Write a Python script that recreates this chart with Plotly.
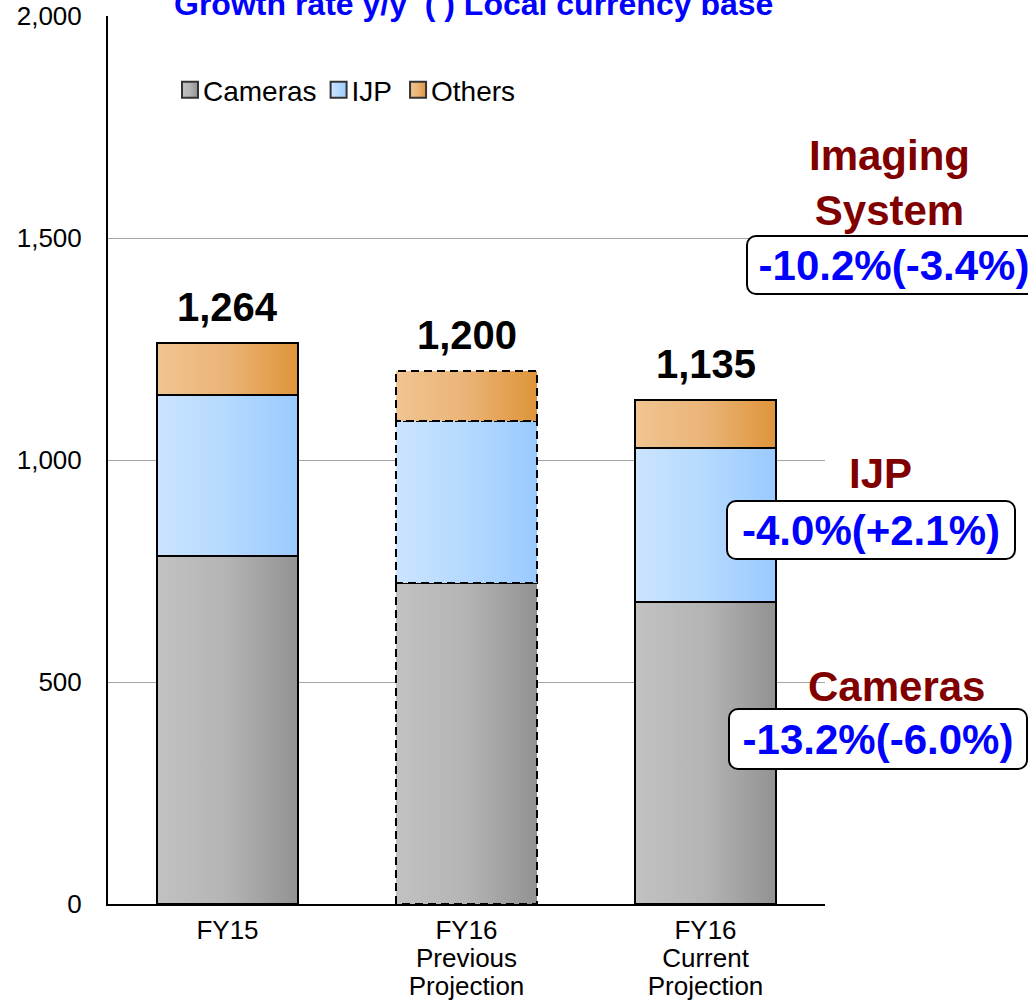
import plotly.graph_objects as go

# Sales by segment (billions of yen), stacked
categories = ["FY15", "FY16<br>Previous<br>Projection", "FY16<br>Current<br>Projection"]
cameras = [784, 723, 680]
ijp = [362, 364, 348]
others = [118, 113, 107]
series_names = ["Cameras", "IJP", "Others"]
base_colors = ["#aaaaaa", "#b3d8ff", "#e8ae6a"]

# Segment growth notes shown on the right
segment_titles = ["Imaging<br>System", "IJP", "Cameras"]
segment_growth = ["-10.2%(-3.4%)", "-4.0%(+2.1%)", "-13.2%(-6.0%)"]

y_ticks = [0, 500, 1000, 1500, 2000]
y_tick_text = ["0", "500", "1,000", "1,500", "2,000"]

FONT = "Liberation Sans, Arial, sans-serif"
W, H = 1028, 1003
L, R, T, B = 108, 825, 16, 904


def px(x):
    return (x - L) / (R - L)


def py(y):
    return (B - y) / (B - T)


fig = go.Figure()
for name, vals, col in zip(series_names, [cameras, ijp, others], base_colors):
    fig.add_trace(go.Bar(
        x=categories, y=vals, name=name,
        marker=dict(color=col, line=dict(color="#000000", width=2)),
        hoverinfo="skip",
    ))

totals = [c + i + o for c, i, o in zip(cameras, ijp, others)]
annotations = []
for cat, tot in zip(categories, totals):
    annotations.append(dict(
        x=cat, y=tot, xref="x", yref="y", text=f"<b>{tot:,}</b>",
        showarrow=False, yanchor="bottom", yshift=12,
        font=dict(family=FONT, size=40, color="#000000"),
    ))

annotations.append(dict(
    x=px(473), y=py(4), xref="paper", yref="paper",
    text="<b>Growth rate y/y  ( ) Local currency base</b>",
    showarrow=False, xanchor="center", yanchor="middle",
    font=dict(family=FONT, size=32, color="#0000ff"),
))

title_pos = [(889, 183), (880, 474), (896, 686)]
box_pos = [(894, 265, 292, 56), (871, 530, 286, 56), (878, 739, 296, 58)]
for t, (tx, ty) in zip(segment_titles, title_pos):
    annotations.append(dict(
        x=px(tx), y=py(ty), xref="paper", yref="paper", text=f"<b>{t}</b>",
        showarrow=False, xanchor="center", yanchor="middle",
        font=dict(family=FONT, size=42, color="#800000"),
    ))
for g, (bx, by, bw, bh) in zip(segment_growth, box_pos):
    annotations.append(dict(
        x=px(bx), y=py(by), xref="paper", yref="paper", text=f"<b>{g}</b>",
        showarrow=False, xanchor="center", yanchor="middle",
        width=bw, height=bh, bgcolor="#ffffff",
        bordercolor="#000000", borderwidth=2, borderpad=0,
        font=dict(family=FONT, size=42, color="#0000ff"),
    ))

fig.update_layout(
    width=W, height=H,
    margin=dict(l=L, r=W - R, t=T, b=H - B, autoexpand=False),
    paper_bgcolor="#ffffff", plot_bgcolor="#ffffff",
    barmode="stack", bargap=0.41,
    showlegend=True,
    legend=dict(
        orientation="h", x=px(163), y=py(65), xanchor="left", yanchor="top",
        traceorder="normal", font=dict(family=FONT, size=28, color="#000000"),
        bgcolor="rgba(0,0,0,0)",
    ),
    annotations=annotations,
    font=dict(family=FONT, color="#000000"),
)
fig.update_yaxes(
    range=[0, 2000], tickvals=y_ticks, ticktext=y_tick_text,
    showgrid=True, gridcolor="#a6a6a6", gridwidth=1,
    showline=True, linecolor="#000000", linewidth=2,
    zeroline=False, ticks="", ticklabelstandoff=19,
    tickfont=dict(family=FONT, size=26, color="#000000"),
)
fig.update_xaxes(
    showline=True, linecolor="#000000", linewidth=2,
    ticks="", ticklabelstandoff=2,
    tickfont=dict(family=FONT, size=26, color="#000000"),
)

# Horizontal gradient fills, dashed outline for the previous projection,
# tighter line spacing for category labels, compact legend entries,
# and rounded corners on the growth-rate boxes.
post = """
var gd = document.getElementById('{plot_id}');
var svg = gd.querySelector('.main-svg');
var defs = svg.querySelector('defs');
var ns = 'http://www.w3.org/2000/svg';
var grads = [['gCam', '#c2c2c2', '#b4b4b4', '#929292'],
             ['gIjp', '#cbe4ff', '#b5d9ff', '#99caff'],
             ['gOth', '#f0c491', '#eab476', '#df943a']];
grads.forEach(function(g) {
  var lg = document.createElementNS(ns, 'linearGradient');
  lg.setAttribute('id', g[0]);
  lg.setAttribute('x1', '0'); lg.setAttribute('y1', '0');
  lg.setAttribute('x2', '1'); lg.setAttribute('y2', '0');
  [[0, g[1]], [0.5, g[2]], [1, g[3]]].forEach(function(s) {
    var st = document.createElementNS(ns, 'stop');
    st.setAttribute('offset', s[0]);
    st.setAttribute('stop-color', s[1]);
    lg.appendChild(st);
  });
  defs.appendChild(lg);
});
gd.querySelectorAll('.barlayer .trace').forEach(function(tr, k) {
  tr.querySelectorAll('.point path').forEach(function(p, i) {
    p.style.fill = 'url(#' + grads[k][0] + ')';
    if (i === 1) { p.style.strokeDasharray = '8,5'; }
  });
});
var legendShift = [0, -10, -16];
gd.querySelectorAll('.legend .traces').forEach(function(tr, k) {
  var m = /translate\\(([-\\d.]+)[ ,]+([-\\d.]+)\\)/.exec(tr.getAttribute('transform') || '');
  if (m) {
    tr.setAttribute('transform', 'translate(' + (parseFloat(m[1]) + legendShift[k]) + ',' + m[2] + ')');
  }
  tr.querySelectorAll('.legendpoints path').forEach(function(p) {
    p.setAttribute('d', 'M15,8H-1V-8H15Z');
    p.style.fill = 'url(#' + grads[k][0] + ')';
    p.style.stroke = '#333333';
    p.style.strokeWidth = '2px';
  });
});
gd.querySelectorAll('.xtick text').forEach(function(t) {
  t.querySelectorAll('tspan.line').forEach(function(ln, i) {
    ln.setAttribute('dy', (i * 1.08) + 'em');
  });
});
gd.querySelectorAll('.annotation rect.bg').forEach(function(r) {
  if (parseFloat(r.style.strokeWidth) > 0) {
    r.setAttribute('rx', 9); r.setAttribute('ry', 9);
  }
});
"""

fig.write_html("out.html", post_script=post)
